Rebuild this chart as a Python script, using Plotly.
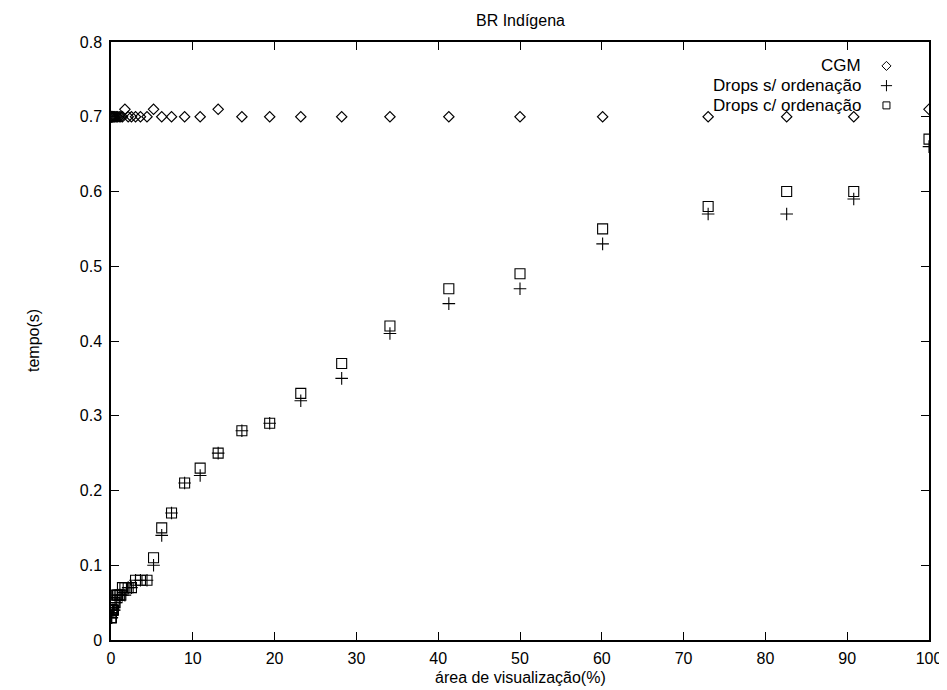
import plotly.graph_objects as go

# ---- data ----
x_area = [0.0, 0.02, 0.05, 0.1, 0.15, 0.2, 0.3, 0.4, 0.5, 0.65, 0.8, 1.0, 1.2, 1.4,
          1.7, 2.1, 2.5, 3.0, 3.6, 4.4, 5.2, 6.2, 7.4, 9.0, 10.9, 13.1, 16.0, 19.4,
          23.2, 28.2, 34.1, 41.3, 50.0, 60.1, 73.0, 82.6, 90.8, 100.0]
cgm = [0.70, 0.70, 0.70, 0.70, 0.70, 0.70, 0.70, 0.70, 0.70, 0.70, 0.70, 0.70, 0.70, 0.70,
       0.71, 0.70, 0.70, 0.70, 0.70, 0.70, 0.71, 0.70, 0.70, 0.70, 0.70, 0.71, 0.70, 0.70,
       0.70, 0.70, 0.70, 0.70, 0.70, 0.70, 0.70, 0.70, 0.70, 0.71]
drops_sem = [0.03, 0.03, 0.03, 0.03, 0.04, 0.04, 0.04, 0.04, 0.05, 0.05, 0.06, 0.06, 0.06, 0.06,
             0.06, 0.07, 0.07, 0.08, 0.08, 0.08, 0.10, 0.14, 0.17, 0.21, 0.22, 0.25, 0.28, 0.29,
             0.32, 0.35, 0.41, 0.45, 0.47, 0.53, 0.57, 0.57, 0.59, 0.66]
drops_com = [0.03, 0.03, 0.03, 0.04, 0.04, 0.04, 0.04, 0.05, 0.05, 0.06, 0.06, 0.06, 0.06, 0.07,
             0.07, 0.07, 0.07, 0.08, 0.08, 0.08, 0.11, 0.15, 0.17, 0.21, 0.23, 0.25, 0.28, 0.29,
             0.33, 0.37, 0.42, 0.47, 0.49, 0.55, 0.58, 0.60, 0.60, 0.67]
series_names = ["CGM", "Drops s/ ordenação", "Drops c/ ordenação"]
x_ticks = [0, 10, 20, 30, 40, 50, 60, 70, 80, 90, 100]
y_ticks = [0, 0.1, 0.2, 0.3, 0.4, 0.5, 0.6, 0.7, 0.8]

FONT = "Liberation Sans, Arial, sans-serif"
symbols = ["diamond-open", "cross-thin-open", "square-open"]
sizes = [8, 9, 10]
leg_sizes = [7, 8, 7]
series = [cgm, drops_sem, drops_com]

fig = go.Figure()
for name, ys, sym, sz in zip(series_names, series, symbols, sizes):
    fig.add_trace(go.Scatter(
        x=x_area, y=ys, mode="markers", name=name, showlegend=False,
        marker=dict(symbol=sym, size=sz, color="black",
                    line=dict(color="black", width=1.1)),
    ))

# manual gnuplot-style legend (text left, symbol right) on an overlay axis
leg_y = [0.960, 0.927, 0.894]
for name, sym, sz, ly in zip(series_names, symbols, leg_sizes, leg_y):
    fig.add_trace(go.Scatter(
        x=[0.948], y=[ly], xaxis="x2", yaxis="y2", mode="markers",
        showlegend=False, hoverinfo="skip",
        marker=dict(symbol=sym, size=sz, color="black",
                    line=dict(color="black", width=1)),
    ))
    fig.add_annotation(x=0.919, y=ly, xref="paper", yref="paper", text=name,
                       showarrow=False, xanchor="right", yanchor="middle",
                       font=dict(family=FONT, size=17, color="black"))

axis_common = dict(
    showline=True, linecolor="black", linewidth=1.5, mirror="allticks",
    ticks="inside", ticklen=8, tickwidth=1, tickcolor="black",
    showgrid=False, zeroline=False,
    tickfont=dict(family=FONT, size=16, color="black"),
)

fig.update_layout(
    width=947, height=690,
    margin=dict(l=103, r=26, t=34, b=58),
    paper_bgcolor="white", plot_bgcolor="white",
    showlegend=False,
    xaxis=dict(range=[0, 100], tickvals=x_ticks, ticklabelstandoff=3, **axis_common),
    yaxis=dict(range=[0, 0.8], tickvals=y_ticks, ticklabelstandoff=4,
               ticktext=[f"{v:g}" for v in y_ticks], **axis_common),
    xaxis2=dict(range=[0, 1], overlaying="x", visible=False),
    yaxis2=dict(range=[0, 1], overlaying="y", visible=False),
)

fig.add_annotation(x=0.5, y=1, xref="paper", yref="paper", yshift=22,
                   text="BR Indígena", showarrow=False, yanchor="middle",
                   font=dict(family=FONT, size=16, color="black"))
fig.add_annotation(x=0.5, y=0, xref="paper", yref="paper", yshift=-37,
                   text="área de visualização(%)", showarrow=False, yanchor="middle",
                   font=dict(family=FONT, size=16, color="black"))
fig.add_annotation(x=0, y=0.5, xref="paper", yref="paper", xshift=-78,
                   text="tempo(s)", showarrow=False, textangle=-90, xanchor="center",
                   font=dict(family=FONT, size=16, color="black"))

fig.write_html("out.html")
